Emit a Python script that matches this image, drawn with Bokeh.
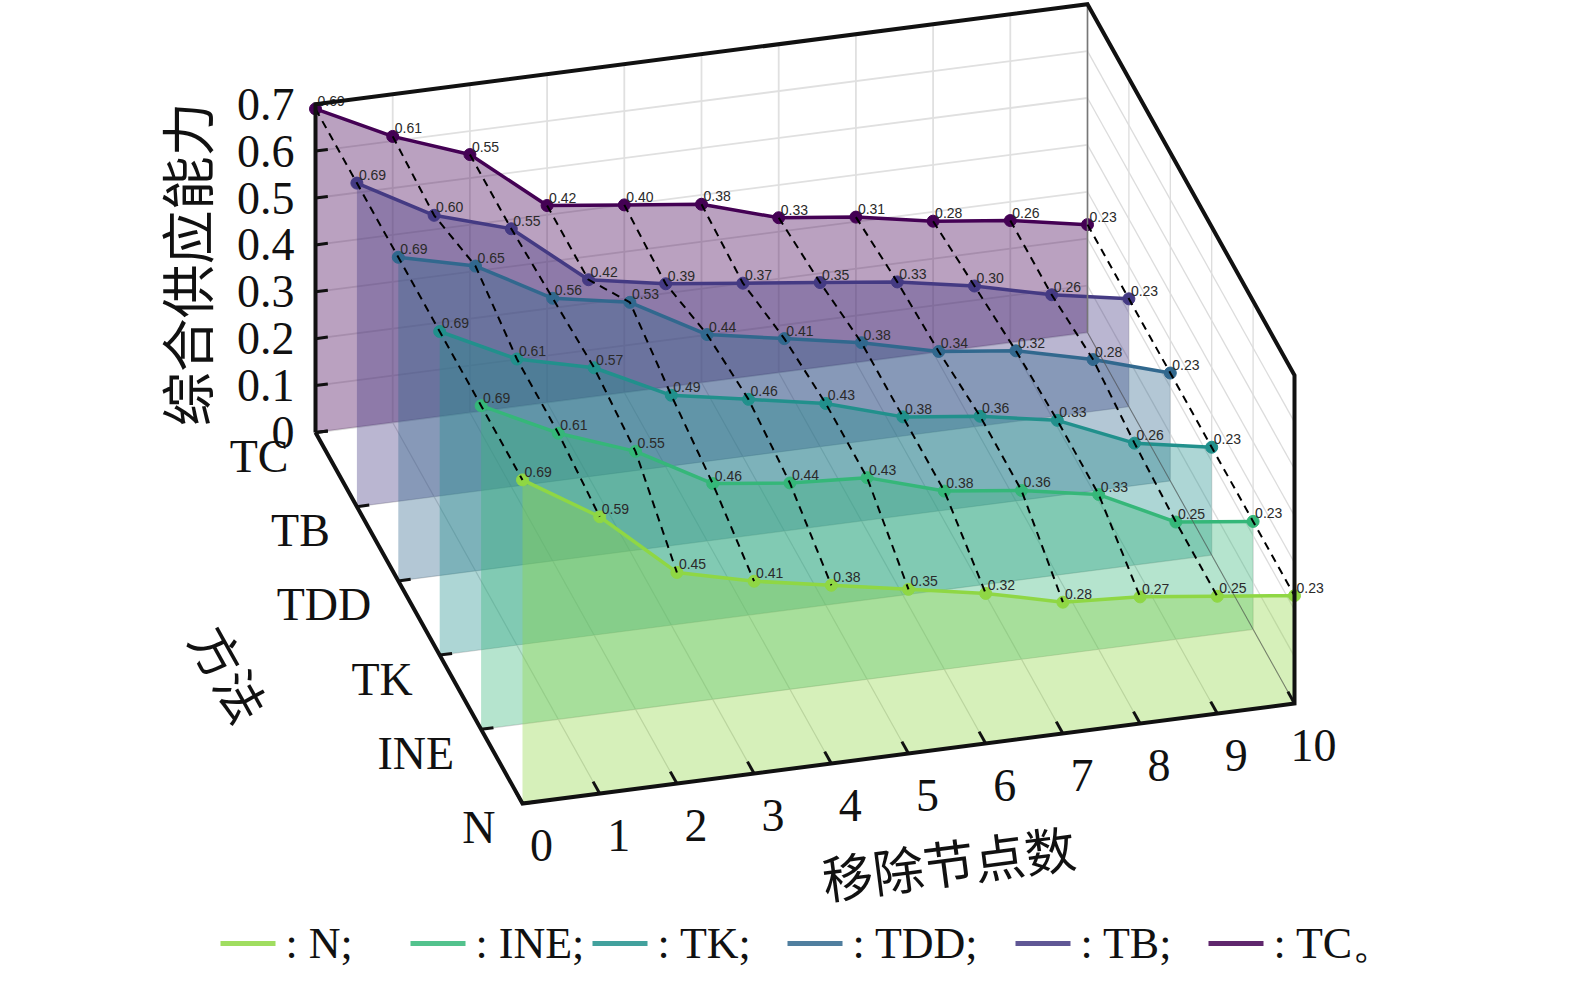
import math
from bokeh.plotting import figure
from bokeh.models import Range1d
from bokeh.embed import file_html
from bokeh.resources import INLINE
from bokeh.core.properties import value

# ---------------- data ----------------
methods = ["N", "INE", "TK", "TDD", "TB", "TC"]
removed = [0, 1, 2, 3, 4, 5, 6, 7, 8, 9, 10]
z_ticks = [0.0, 0.1, 0.2, 0.3, 0.4, 0.5, 0.6, 0.7]
z_tick_labels = ["0", "0.1", "0.2", "0.3", "0.4", "0.5", "0.6", "0.7"]

vals_N = [0.69, 0.59, 0.45, 0.41, 0.38, 0.35, 0.32, 0.28, 0.27, 0.25, 0.23]
vals_INE = [0.69, 0.61, 0.55, 0.46, 0.44, 0.43, 0.38, 0.36, 0.33, 0.25, 0.23]
vals_TK = [0.69, 0.61, 0.57, 0.49, 0.46, 0.43, 0.38, 0.36, 0.33, 0.26, 0.23]
vals_TDD = [0.69, 0.65, 0.56, 0.53, 0.44, 0.41, 0.38, 0.34, 0.32, 0.28, 0.23]
vals_TB = [0.69, 0.60, 0.55, 0.42, 0.39, 0.37, 0.35, 0.33, 0.30, 0.26, 0.23]
vals_TC = [0.69, 0.61, 0.55, 0.42, 0.40, 0.38, 0.33, 0.31, 0.28, 0.26, 0.23]

series = [vals_N, vals_INE, vals_TK, vals_TDD, vals_TB, vals_TC]
colors = ["#8FD744", "#35B779", "#21908C", "#31688E", "#443A83", "#440154"]
legend_labels = [": N;", ": INE;", ": TK;", ": TDD;", ": TB;", ": TC。"]

x_title = "移除节点数"
y_title = "方法"
z_title = "综合供应能力"

# ---------------- 3-D projection (layout) ----------------
O = (522.0, 803.0)
EX = (77.2, -10.0)    # per removed node
EY = (-41.4, -74.2)   # per method step
EZ = (0.0, -469.0)    # per unit of value
XMAX = removed[-1]
MMAX = len(methods) - 1
ZMAX = z_ticks[-1]

# legend layout (screen px)
LEG_X = [220, 410, 592, 787, 1015, 1208]
LEG_Y = 943
LEG_W = 55


def proj(x, m, z):
    return (O[0] + EX[0] * x + EY[0] * m + EZ[0] * z,
            O[1] + EX[1] * x + EY[1] * m + EZ[1] * z)


def seg(a, b):
    pa, pb = proj(*a), proj(*b)
    return [pa[0], pb[0]], [pa[1], pb[1]]


W, H = 1557, 969
p = figure(width=W, height=H, x_range=Range1d(0, W), y_range=Range1d(H, 0),
           output_backend="svg", toolbar_location=None, min_border=0,
           x_axis_location=None, y_axis_location=None)
p.grid.visible = False
p.outline_line_color = None
p.background_fill_color = "white"

SERIF = value("Liberation Serif")
CJK = value("Noto Sans CJK SC")

# ---------------- grids ----------------
gx, gy = [], []
for i in removed:                      # back wall verticals
    a, b = seg((i, MMAX, 0), (i, MMAX, ZMAX)); gx.append(a); gy.append(b)
for z in z_ticks:                      # back wall horizontals
    a, b = seg((0, MMAX, z), (XMAX, MMAX, z)); gx.append(a); gy.append(b)
p.multi_line(gx, gy, line_color="#e0e0e0", line_width=1.8)

rx, ry = [], []
for m in range(len(methods)):          # right wall verticals
    a, b = seg((XMAX, m, 0), (XMAX, m, ZMAX)); rx.append(a); ry.append(b)
for z in z_ticks:                      # right wall diagonals
    a, b = seg((XMAX, 0, z), (XMAX, MMAX, z)); rx.append(a); ry.append(b)
p.multi_line(rx, ry, line_color="#dcdcdc", line_width=1.3)

fx, fy = [], []
for i in removed:                      # floor
    a, b = seg((i, 0, 0), (i, MMAX, 0)); fx.append(a); fy.append(b)
for m in range(len(methods)):
    a, b = seg((0, m, 0), (XMAX, m, 0)); fx.append(a); fy.append(b)
p.multi_line(fx, fy, line_color="#d4d4d4", line_width=1.2)

# ---------------- series (back to front) ----------------
pts_all = {}
for k in range(MMAX, -1, -1):
    vals = series[k]
    c = colors[k]
    pts = [proj(x, k, v) for x, v in zip(removed, vals)]
    pts_all[k] = pts
    b1 = proj(XMAX, k, 0)
    b0 = proj(0, k, 0)
    px = [q[0] for q in pts] + [b1[0], b0[0]]
    py = [q[1] for q in pts] + [b1[1], b0[1]]
    p.patch(px, py, fill_color=c, fill_alpha=0.37, line_color=None)
    p.line([q[0] for q in pts], [q[1] for q in pts], line_color=c, line_width=3.5)
    p.scatter([q[0] for q in pts], [q[1] for q in pts], size=12, fill_color=c,
              line_color=c, line_width=1)

# thin back edges
a, b = seg((XMAX, MMAX, 0), (XMAX, MMAX, ZMAX))
p.line(a, b, line_color="#777777", line_width=1.5)
a, b = seg((XMAX, MMAX, 0), (XMAX, 0, 0))
p.line(a, b, line_color="#555555", line_width=1, line_alpha=0.7)

# dashed connectors at each removed count
dx, dy = [], []
for i in removed:
    dx.append([pts_all[k][i][0] for k in range(MMAX, -1, -1)])
    dy.append([pts_all[k][i][1] for k in range(MMAX, -1, -1)])
p.multi_line(dx, dy, line_color="black", line_width=2, line_dash="8 6")

# value labels
lx, ly, lt = [], [], []
for k in range(MMAX, -1, -1):
    for i, v in enumerate(series[k]):
        lx.append(pts_all[k][i][0]); ly.append(pts_all[k][i][1]); lt.append(f"{v:.2f}")
p.text(lx, ly, text=lt, x_offset=2, y_offset=-3, text_font=value("Liberation Sans"),
       text_font_size="14px", text_color="#2a2a2a", text_baseline="bottom", text_align="left")

# ---------------- box edges ----------------
loop = [(0, MMAX, 0), (0, MMAX, ZMAX), (XMAX, MMAX, ZMAX), (XMAX, 0, ZMAX),
        (XMAX, 0, 0), (0, 0, 0), (0, MMAX, 0)]
lp = [proj(*q) for q in loop]
p.line([q[0] for q in lp], [q[1] for q in lp], line_color="#111111", line_width=4,
       line_join="miter")

# ticks
tx, ty = [], []
for z in z_ticks:
    a, b = seg((0, MMAX, z), (0.16, MMAX, z)); tx.append(a); ty.append(b)
for m in range(len(methods)):
    a, b = seg((0, m, 0), (0.16, m, 0)); tx.append(a); ty.append(b)
for i in removed:
    a, b = seg((i, 0, 0), (i, 0.16, 0)); tx.append(a); ty.append(b)
p.multi_line(tx, ty, line_color="#111111", line_width=3)

# tick labels
zl = [proj(0, MMAX, z) for z in z_ticks]
p.text([q[0] for q in zl], [q[1] for q in zl], text=z_tick_labels, x_offset=-21,
       text_font=SERIF, text_font_size="46px", text_color="#111111",
       text_align="right", text_baseline="middle")
ml = [proj(0, m, 0) for m in range(len(methods))]
p.text([q[0] for q in ml], [q[1] for q in ml], text=methods, x_offset=-27, y_offset=24,
       text_font=SERIF, text_font_size="46px", text_color="#111111",
       text_align="right", text_baseline="middle")
xl = [proj(i, 0, 0) for i in removed]
p.text([q[0] for q in xl], [q[1] for q in xl], text=[str(i) for i in removed],
       x_offset=19, y_offset=42, text_font=SERIF, text_font_size="46px",
       text_color="#111111", text_align="center", text_baseline="middle")

# axis titles
ang_x = math.atan2(-EX[1], EX[0])
ang_y = -math.atan2(-EY[1], -EY[0])
ax_ = proj(XMAX / 2, 0, 0)
p.text([ax_[0]], [ax_[1]], text=[x_title], x_offset=40, y_offset=108, angle=ang_x,
       text_font=CJK, text_font_size="51px", text_color="#111111",
       text_align="center", text_baseline="middle")
ay_ = proj(0, MMAX / 2, 0)
p.text([ay_[0]], [ay_[1]], text=[y_title], x_offset=-188, y_offset=55, angle=ang_y,
       text_font=CJK, text_font_size="50px", text_color="#111111",
       text_align="center", text_baseline="middle")
az_ = proj(0, MMAX, ZMAX / 2)
p.text([az_[0]], [az_[1]], text=[z_title], x_offset=-130, y_offset=-4, angle=math.pi / 2,
       text_font=CJK, text_font_size="54px", text_color="#111111",
       text_align="center", text_baseline="middle")

# ---------------- legend (drawn in screen space) ----------------
p.multi_line([[x0, x0 + LEG_W] for x0 in LEG_X], [[LEG_Y, LEG_Y] for _ in LEG_X],
             line_color=colors, line_width=5, line_alpha=0.85)
p.text([x0 + LEG_W + 10 for x0 in LEG_X], [LEG_Y] * len(LEG_X), text=legend_labels,
       text_font=SERIF, text_font_size="44px", text_color="#111111",
       text_align="left", text_baseline="middle")

open("out.html", "w").write(file_html(p, INLINE))
